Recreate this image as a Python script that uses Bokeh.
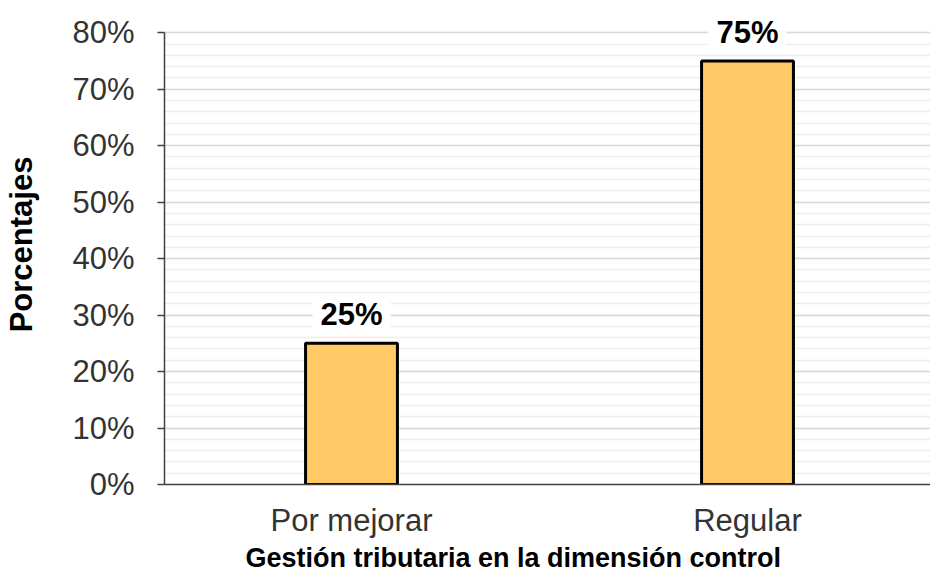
from bokeh.plotting import figure
from bokeh.models import (Range1d, FixedTicker, SingleIntervalTicker, NumeralTickFormatter,
                          ColumnDataSource, Label, Title)
from bokeh.embed import file_html
from bokeh.resources import INLINE

categories = ["Por mejorar", "Regular"]
values = [0.25, 0.75]
value_labels = ["25%", "75%"]
y_title = "Porcentajes"
x_title = "Gestión tributaria en la dimensión control"

xs = list(range(len(categories)))
src = ColumnDataSource(dict(x=xs, top=values, lab=value_labels))

p = figure(width=930, height=572, output_backend="svg", toolbar_location=None,
           x_range=Range1d(-0.4722, 1.4621), y_range=Range1d(0, 0.85),
           min_border_left=164, min_border_right=0, min_border_top=4, min_border_bottom=0)
p.outline_line_color = None
p.background_fill_color = "white"

p.vbar(x="x", top="top", width=0.232, bottom=0, source=src,
       fill_color="#FFC965", line_color="black", line_width=3)

for xi, v, lab in zip(xs, values, value_labels):
    p.add_layout(Label(x=xi, y=v, text=lab, text_align="center",
                       text_baseline="bottom", y_offset=11,
                       text_font="Liberation Sans", text_font_style="bold",
                       text_font_size="31px", text_color="black",
                       background_fill_color="white", background_fill_alpha=1.0,
                       padding=(8, 0)))

# y axis
yt = SingleIntervalTicker(interval=0.1, num_minor_ticks=5)
p.yaxis.ticker = yt
p.yaxis.bounds = (0, 0.8)
p.yaxis.formatter = NumeralTickFormatter(format="0%")
p.yaxis.axis_line_color = "#404040"
p.yaxis.axis_line_width = 1.5
p.yaxis.major_tick_line_color = "#404040"
p.yaxis.major_tick_line_width = 1.5
p.yaxis.major_tick_out = 7
p.yaxis.major_tick_in = 0
p.yaxis.minor_tick_line_color = None
p.yaxis.major_label_standoff = 23
p.yaxis.major_label_text_font = "Liberation Sans"
p.yaxis.major_label_text_font_size = "31px"
p.yaxis.major_label_text_color = "#333333"
p.yaxis.axis_label = y_title
p.yaxis.axis_label_text_font = "Liberation Sans"
p.yaxis.axis_label_text_font_style = "bold"
p.yaxis.axis_label_text_font_size = "31px"
p.yaxis.axis_label_text_color = "black"
p.yaxis.axis_label_standoff = 30

# x axis
p.xaxis.ticker = FixedTicker(ticks=xs)
p.xaxis.major_label_overrides = {i: c for i, c in zip(xs, categories)}
p.xaxis.axis_line_color = "#404040"
p.xaxis.axis_line_width = 1.5
p.xaxis.major_tick_line_color = None
p.xaxis.minor_tick_line_color = None
p.xaxis.major_label_standoff = 12
p.xaxis.major_label_text_font = "Liberation Sans"
p.xaxis.major_label_text_font_size = "31px"
p.xaxis.major_label_text_color = "#333333"

xt = Title(text=x_title, align="left", offset=81, standoff=0,
           text_font="Liberation Sans", text_font_style="bold",
           text_font_size="27px", text_color="black")
p.add_layout(xt, "below")

# grids
p.xgrid.grid_line_color = None
p.ygrid.ticker = yt
p.ygrid.bounds = (0, 0.8)
p.ygrid.grid_line_color = "#d9d9d9"
p.ygrid.grid_line_width = 1.5
p.ygrid.minor_grid_line_color = "#eeeeee"
p.ygrid.minor_grid_line_width = 1.5

open("out.html", "w").write(file_html(p, INLINE))
